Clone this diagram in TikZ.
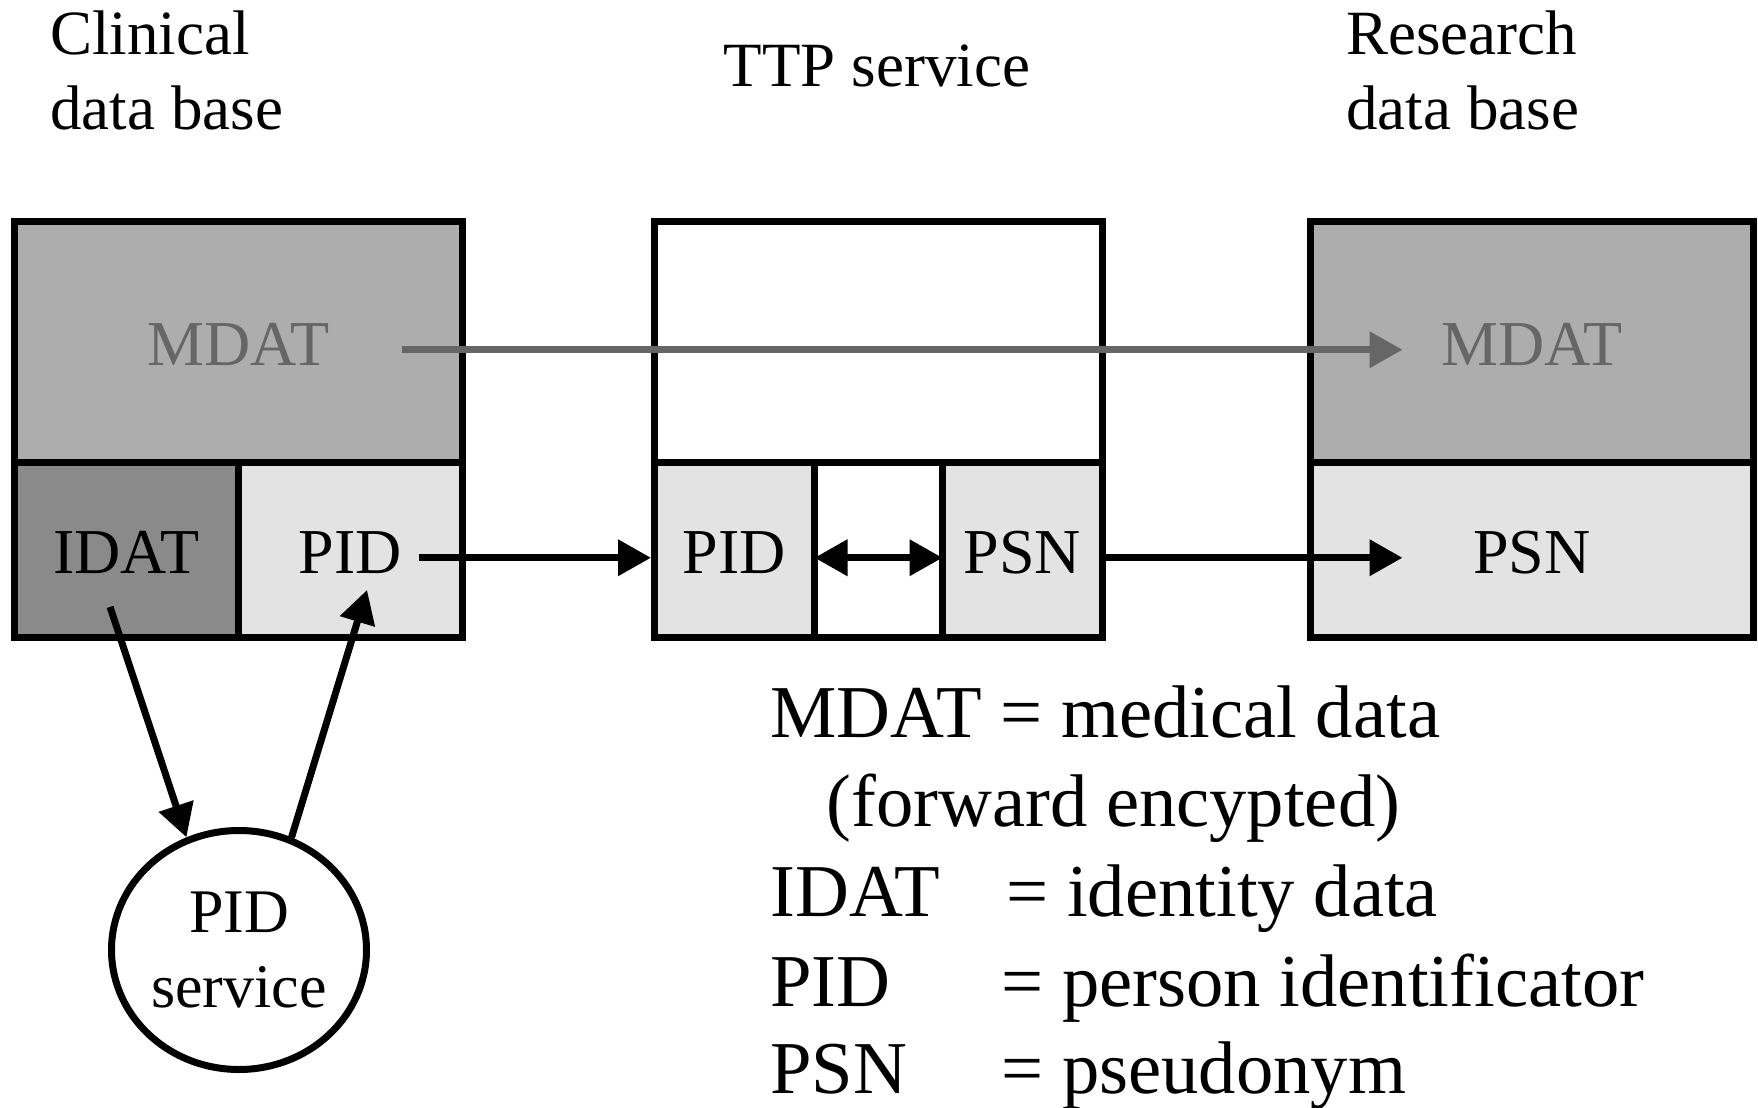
\documentclass[tikz,border=0pt]{standalone}
\usepackage{fontspec}
\setmainfont{Liberation Serif}
\usetikzlibrary{arrows.meta,shapes.geometric}
\definecolor{mdatgray}{gray}{0.68}
\definecolor{idatgray}{gray}{0.54}
\definecolor{pidgray}{gray}{0.89}
\definecolor{textgray}{gray}{0.4}

\begin{document}
\begin{tikzpicture}
        [x=0.5pt, y=-0.5pt, inner sep=0pt,
         >={Triangle[length=16.5pt, width=17.5pt]},
         cell/.style={rectangle, draw, line width=3.5pt, text height=24pt, text depth=0pt,
                      font=\fontsize{32}{38}\selectfont},
         upper/.style={cell, minimum height=120.25pt},
         lower/.style={cell, minimum height=87.75pt},
         title/.style={align=left, font=\fontsize{31.5}{37.5}\selectfont},
         key/.style={anchor=base west, font=\fontsize{37.3}{44}\selectfont},
         flow/.style={line width=3.5pt}]
        \useasboundingbox (0,0) rectangle (1758,1108);

        \node (clinicaldb) at (50, 129)[title, anchor=base west] {Clinical\\data base};
        \node (ttpsvc)     at (877, 86)[title, anchor=base] {TTP service};
        \node (researchdb) at (1346, 129)[title, anchor=base west] {Research\\data base};

        \node (mdatcl) at (238.5, 341.75)[upper, fill=mdatgray, minimum width=224pt, text=textgray] {MDAT};
        \node (idatcl) at (126.25, 549.75)[lower, fill=idatgray, minimum width=111.75pt] {IDAT};
        \node (pidcl)  at (350.25, 549.75)[lower, fill=pidgray, minimum width=112.25pt] {PID};

        \node (ttptop) at (878.5, 341.75)[upper, minimum width=224pt] {};
        \node (pidttp) at (734.5, 549.75)[lower, fill=pidgray, minimum width=80pt] {PID};
        \node (gapttp) at (878.5, 549.75)[lower, minimum width=64pt] {};
        \node (psnttp) at (1022.5, 549.75)[lower, fill=pidgray, minimum width=80pt] {PSN};

        \node (mdatrs) at (1532, 341.75)[upper, fill=mdatgray, minimum width=221.5pt, text=textgray] {MDAT};
        \node (psnrs)  at (1532, 549.75)[lower, fill=pidgray, minimum width=221.5pt] {PSN};

        \node (pidsvc) at (239, 950)[ellipse, draw, line width=3.5pt, minimum width=127.5pt,
            minimum height=119.5pt, align=center, font=\fontsize{31}{37.5}\selectfont] {PID\\service};

        \draw [->, flow, textgray] ([xshift=-32.25pt, yshift=-4pt]mdatcl.east) -- ([xshift=47.75pt, yshift=-4pt]mdatrs.west);
        \draw [->, flow] ([xshift=-23.75pt, yshift=-4pt]pidcl.east) -- ([yshift=-4pt]pidttp.west);
        \draw [<->, flow, shorten <=1.75pt, shorten >=1.75pt] ([yshift=-4pt]gapttp.west) -- ([yshift=-4pt]gapttp.east);
        \draw [->, flow] ([yshift=-4pt]psnttp.east) -- ([xshift=47.75pt, yshift=-4pt]psnrs.west);
        \draw [->, flow] ([xshift=-8.1pt, yshift=-28.6pt]idatcl.center) -- (pidsvc.115);
        \draw [->, flow] (pidsvc.65) -- ([xshift=8.4pt, yshift=-20.1pt]pidcl.center);

        \node (keymdat) at (770, 737)[key] {MDAT = medical data};
        \node (keyenc)  at (826, 826)[key] {(forward encypted)};
        \node (keyidat) at (770, 916)[key] {IDAT};
        \node (defidat) at (1006, 916)[key] {= identity data};
        \node (keypid)  at (770, 1006)[key] {PID};
        \node (defpid)  at (1001, 1006)[key] {= person identificator};
        \node (keypsn)  at (770, 1093)[key] {PSN};
        \node (defpsn)  at (1001, 1093)[key] {= pseudonym};
    \end{tikzpicture}
\end{document}
